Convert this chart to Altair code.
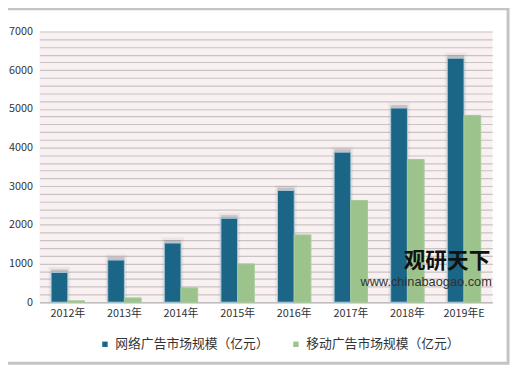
import altair as alt
import pandas as pd

years = ["2012年", "2013年", "2014年", "2015年", "2016年", "2017年", "2018年", "2019年E"]
series = ["网络广告市场规模（亿元）", "移动广告市场规模（亿元）"]
online = [770, 1090, 1530, 2170, 2890, 3880, 5020, 6310]
mobile = [35, 110, 370, 990, 1740, 2630, 3690, 4830]
colors = ["#1b6587", "#9dc38c"]
y_ticks = list(range(0, 7001, 200))

rows = []
for i, y in enumerate(years):
    rows.append({"year": y, "series": series[0], "value": online[i]})
    rows.append({"year": y, "series": series[1], "value": mobile[i]})
df = pd.DataFrame(rows)

FONT = "Noto Sans CJK SC"

x_enc = alt.X("year:N", sort=years,
              scale=alt.Scale(paddingInner=0.41, paddingOuter=0.205),
              axis=alt.Axis(title=None, labelAngle=0, labelFontSize=11, labelColor="#333333",
                            labelFont=FONT, labelPadding=6, ticks=False,
                            domainColor="#bdbdbd", domainWidth=1.5, grid=False))
y_enc = alt.Y("value:Q", scale=alt.Scale(domain=[0, 7000], nice=False),
              axis=alt.Axis(title=None, values=y_ticks, format="d",
                            labelExpr="datum.value % 1000 == 0 ? datum.label : ''",
                            labelFontSize=11, labelColor="#333333", labelFont=FONT,
                            labelPadding=7, ticks=False, domain=False,
                            gridColor="#c9c3c3", gridWidth=1.2))
xo_enc = alt.XOffset("series:N", sort=series, scale=alt.Scale(domain=series, paddingInner=0))

base = alt.Chart(df)

shadow = base.transform_filter(alt.datum.series == series[0]).mark_bar(
    color="#6e6e6e", opacity=0.35, stroke="#6e6e6e", strokeWidth=5,
    strokeOpacity=0.25, yOffset=-3
).encode(x=x_enc, y=y_enc, xOffset=xo_enc)

bars = base.mark_bar(strokeWidth=1).encode(
    x=x_enc, y=y_enc, xOffset=xo_enc,
    color=alt.Color("series:N", sort=series,
                    scale=alt.Scale(domain=series, range=colors),
                    legend=alt.Legend(title=None, orient="none", legendX=60, legendY=311,
                                      direction="horizontal", symbolType="square",
                                      symbolSize=30, symbolStrokeWidth=0,
                                      labelFontSize=13, labelFont=FONT, labelColor="#333333",
                                      columnPadding=20, labelOffset=4, labelLimit=300)),
    stroke=alt.Stroke("series:N", sort=series,
                      scale=alt.Scale(domain=series, range=["#a9c8d8", "#a6c998"]),
                      legend=None),
)

frame = alt.Chart(pd.DataFrame({"f": [1]})).mark_rect(
    fill=None, stroke="#c4c4c4", strokeWidth=3
).encode(x=alt.value(-35), x2=alt.value(476), y=alt.value(-23), y2=alt.value(337))

wm1 = alt.Chart(pd.DataFrame({"t": ["观研天下"]})).mark_text(
    font=FONT, fontSize=22, fontWeight="bold", color="#111111", align="left", baseline="middle"
).encode(text="t:N", x=alt.value(370), y=alt.value(233))
wm2 = alt.Chart(pd.DataFrame({"t": ["www.chinabaogao.com"]})).mark_text(
    font="Liberation Sans", fontSize=13, color="#333333", align="left", baseline="middle"
).encode(text="t:N", x=alt.value(326), y=alt.value(255))

chart = alt.layer(frame, shadow, bars, wm1, wm2).properties(
    width=460, height=275,
    autosize=alt.AutoSizeParams(type="none"),
    padding={"left": 32, "top": 21, "right": 20, "bottom": 64},
    background="white",
).configure_view(fill="#f9f0f1", stroke=None)

chart.save("out.html", embed_options={"renderer": "svg", "actions": False})
